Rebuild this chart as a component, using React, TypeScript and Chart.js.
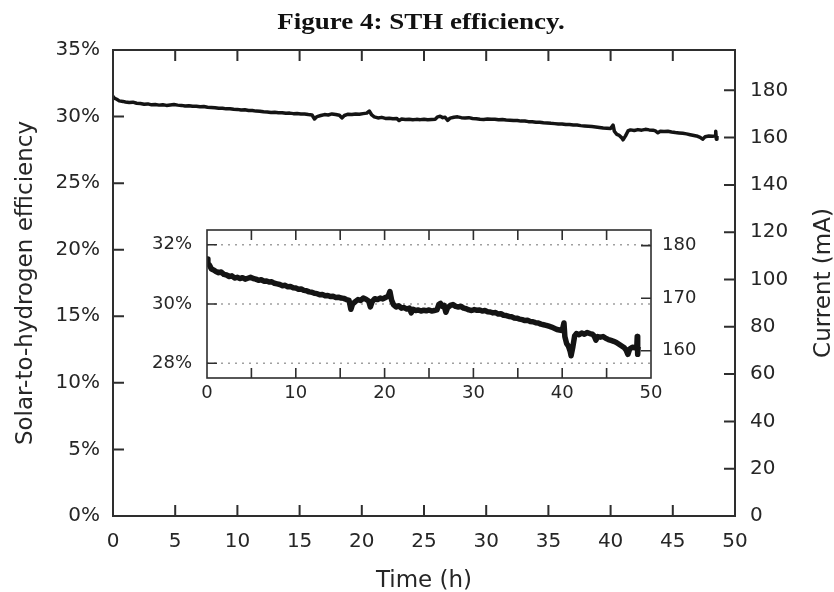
import React, { useEffect, useRef } from "react";
import { Chart, registerables } from "chart.js";

Chart.register(...registerables);

// ---------- data ----------
const TIME_H = [
  0.0, 0.1, 0.3, 0.5, 0.8, 1.0, 1.3, 1.6, 1.9, 2.2, 2.5, 2.8, 3.1, 3.4, 3.7, 4.0, 4.3, 4.6, 4.9, 5.2,
  5.5, 5.8, 6.1, 6.4, 6.7, 7.0, 7.3, 7.6, 7.9, 8.2, 8.5, 8.8, 9.1, 9.4, 9.7, 10.0, 10.3, 10.6, 10.9, 11.2,
  11.5, 11.8, 12.1, 12.4, 12.7, 13.0, 13.3, 13.6, 13.9, 14.2, 14.5, 14.8, 15.1, 15.4, 15.7, 16.0, 16.2, 16.4, 16.7, 17.0,
  17.3, 17.6, 17.9, 18.2, 18.4, 18.6, 18.9, 19.2, 19.5, 19.8, 20.1, 20.4, 20.6, 20.8, 21.0, 21.3, 21.6, 21.9, 22.2, 22.5,
  22.8, 23.0, 23.2, 23.5, 23.8, 24.1, 24.4, 24.7, 25.0, 25.3, 25.6, 25.9, 26.1, 26.3, 26.5, 26.7, 26.9, 27.1, 27.4, 27.7,
  28.0, 28.3, 28.6, 28.9, 29.2, 29.5, 29.8, 30.1, 30.4, 30.7, 31.0, 31.3, 31.6, 31.9, 32.2, 32.5, 32.8, 33.1, 33.4, 33.7,
  34.0, 34.3, 34.6, 34.9, 35.2, 35.5, 35.8, 36.1, 36.4, 36.7, 37.0, 37.3, 37.6, 37.9, 38.2, 38.5, 38.8, 39.1, 39.4, 39.7,
  40.0, 40.2, 40.3, 40.5, 40.7, 40.9, 41.0, 41.2, 41.4, 41.6, 41.9, 42.2, 42.5, 42.8, 43.1, 43.4, 43.6, 43.8, 44.0, 44.3,
  44.6, 44.9, 45.2, 45.5, 45.8, 46.1, 46.4, 46.7, 47.0, 47.2, 47.4, 47.6, 47.9, 48.2, 48.4, 48.45, 48.5, 48.55,
];

const STH_PCT = [
  31.52, 31.38, 31.3, 31.18, 31.14, 31.1, 31.06, 31.08, 31.0, 30.98, 30.93, 30.95, 30.88, 30.9, 30.86, 30.89, 30.84, 30.87, 30.9, 30.86,
  30.84, 30.8, 30.82, 30.77, 30.78, 30.74, 30.75, 30.7, 30.68, 30.66, 30.62, 30.63, 30.58, 30.59, 30.55, 30.54, 30.5, 30.51, 30.46, 30.45,
  30.41, 30.4, 30.36, 30.35, 30.31, 30.32, 30.28, 30.29, 30.25, 30.26, 30.22, 30.23, 30.2, 30.19, 30.15, 30.12, 29.82, 30.0, 30.08, 30.15,
  30.12, 30.2, 30.16, 30.1, 29.9, 30.08, 30.18, 30.15, 30.2, 30.17, 30.22, 30.26, 30.42, 30.12, 29.98, 29.9, 29.94, 29.86, 29.88, 29.83,
  29.86, 29.7, 29.82, 29.78, 29.8, 29.76, 29.79, 29.77, 29.8, 29.76, 29.78, 29.8, 29.98, 30.02, 29.92, 29.95, 29.72, 29.88, 29.95, 29.98,
  29.92, 29.9, 29.92, 29.86, 29.84, 29.8, 29.78, 29.81, 29.79, 29.8, 29.76, 29.78, 29.74, 29.73, 29.7, 29.71, 29.66, 29.67, 29.62, 29.61,
  29.58, 29.57, 29.53, 29.52, 29.49, 29.47, 29.44, 29.45, 29.41, 29.4, 29.37, 29.36, 29.32, 29.3, 29.28, 29.25, 29.22, 29.18, 29.14, 29.12,
  29.1, 29.36, 28.9, 28.66, 28.58, 28.4, 28.25, 28.55, 28.92, 29.0, 28.96, 29.02, 28.98, 29.04, 29.0, 28.98, 28.92, 28.78, 28.9, 28.88,
  28.9, 28.84, 28.8, 28.77, 28.74, 28.7, 28.64, 28.58, 28.52, 28.44, 28.3, 28.48, 28.54, 28.52, 28.55, 28.9, 28.3, 28.55,
];

// current (mA) per percent of STH efficiency
const MA_PER_PCT = 5.63;

const MAIN_X_TICKS = [0, 5, 10, 15, 20, 25, 30, 35, 40, 45, 50];
const MAIN_Y_TICKS = [0, 5, 10, 15, 20, 25, 30, 35];
const MAIN_CURRENT_TICKS = [0, 20, 40, 60, 80, 100, 120, 140, 160, 180];
const MAIN_Y_RANGE = [0, 35];

const INSET_X_TICKS = [0, 10, 20, 30, 40, 50];
const INSET_X_MARKS = [5, 10, 15, 20, 25, 30, 35, 40, 45];
const INSET_Y_TICKS = [28, 30, 32];
const INSET_CURRENT_TICKS = [160, 170, 180];
const INSET_Y_RANGE = [27.5, 32.5];

const X_RANGE = [0, 50];

const TITLE = "Figure 4: STH efficiency.";
const X_TITLE = "Time (h)";
const Y_TITLE = "Solar-to-hydrogen efficiency";
const Y1_TITLE = "Current (mA)";

// ---------- helpers ----------
const FONT = "'DejaVu Sans', sans-serif";
const TEXT = "#262626";
const AXIS = "#2e2e2e";

type DecorCfg = {
  id: string;
  frameWidth: number;
  tickLen: number;
  xMarks: number[];
  yMarks: number[];
  y1Marks: number[];
  gridValues?: number[];
  titles?: boolean;
};

function makeDecor(cfg: DecorCfg) {
  return {
    id: cfg.id,
    beforeDatasetsDraw(chart: any) {
      if (!cfg.gridValues) return;
      const { ctx, chartArea: a, scales } = chart;
      ctx.save();
      ctx.strokeStyle = "#a0a0a0";
      ctx.lineWidth = 1.5;
      ctx.setLineDash([2, 5]);
      for (const v of cfg.gridValues) {
        const y = scales.y.getPixelForValue(v);
        ctx.beginPath();
        ctx.moveTo(a.left, y);
        ctx.lineTo(a.right, y);
        ctx.stroke();
      }
      ctx.restore();
    },
    afterDatasetsDraw(chart: any) {
      const { ctx, chartArea: a, scales } = chart;
      ctx.save();
      ctx.strokeStyle = AXIS;
      ctx.lineWidth = cfg.frameWidth;
      ctx.setLineDash([]);
      ctx.strokeRect(a.left, a.top, a.right - a.left, a.bottom - a.top);
      const L = cfg.tickLen;
      ctx.beginPath();
      for (const v of cfg.xMarks) {
        const x = scales.x.getPixelForValue(v);
        ctx.moveTo(x, a.bottom);
        ctx.lineTo(x, a.bottom - L);
        ctx.moveTo(x, a.top);
        ctx.lineTo(x, a.top + L);
      }
      for (const v of cfg.yMarks) {
        const y = scales.y.getPixelForValue(v);
        ctx.moveTo(a.left, y);
        ctx.lineTo(a.left + L, y);
      }
      for (const v of cfg.y1Marks) {
        const y = scales.y1.getPixelForValue(v);
        ctx.moveTo(a.right, y);
        ctx.lineTo(a.right - L, y);
      }
      ctx.stroke();
      ctx.restore();
    },
    afterDraw(chart: any) {
      if (!cfg.titles) return;
      const { ctx, chartArea: a } = chart;
      ctx.save();
      ctx.fillStyle = TEXT;
      ctx.font = `23px ${FONT}`;
      ctx.textAlign = "center";
      ctx.textBaseline = "alphabetic";
      const midY = (a.top + a.bottom) / 2;
      ctx.fillText(X_TITLE, (a.left + a.right) / 2, 587);
      ctx.save();
      ctx.translate(32, midY);
      ctx.rotate(-Math.PI / 2);
      ctx.fillText(Y_TITLE, 0, 0);
      ctx.restore();
      ctx.save();
      ctx.translate(830, midY);
      ctx.rotate(-Math.PI / 2);
      ctx.fillText(Y1_TITLE, 0, 0);
      ctx.restore();
      ctx.restore();
    },
  };
}

function fixedTicks(values: number[]) {
  return (scale: any) => {
    scale.ticks = values.map((v) => ({ value: v }));
  };
}

function buildConfig(opts: {
  lineWidth: number;
  fontSize: number;
  xTicks: number[];
  yTicks: number[];
  y1Ticks: number[];
  yRange: number[];
  leftW: number;
  rightW: number;
  bottomH: number;
  topPad: number;
  padLeft: number;
  padRight: number;
  padX: number;
  decor: any;
}) {
  const points = TIME_H.map((t, i) => ({ x: t, y: STH_PCT[i] }));
  const tickFont = { family: FONT, size: opts.fontSize };
  const noPad = (s: any) => {
    s.paddingTop = 0;
    s.paddingBottom = 0;
    s.paddingLeft = 0;
    s.paddingRight = 0;
  };
  return {
    type: "line" as const,
    data: {
      datasets: [
        {
          data: points,
          borderColor: "#141414",
          borderWidth: opts.lineWidth,
          pointRadius: 0,
          tension: 0,
          fill: false,
          borderJoinStyle: "round" as const,
        },
      ],
    },
    options: {
      responsive: false,
      animation: false as const,
      devicePixelRatio: 1,
      layout: { padding: { top: opts.topPad, left: 0, right: 0, bottom: 0 } },
      plugins: { legend: { display: false }, tooltip: { enabled: false }, title: { display: false } },
      scales: {
        x: {
          type: "linear" as const,
          position: "bottom" as const,
          min: X_RANGE[0],
          max: X_RANGE[1],
          afterBuildTicks: fixedTicks(opts.xTicks),
          afterFit: (s: any) => {
            s.height = opts.bottomH;
            noPad(s);
          },
          grid: { display: false, drawTicks: false },
          border: { display: false },
          ticks: { font: tickFont, color: TEXT, padding: opts.padX, maxRotation: 0, autoSkip: false },
        },
        y: {
          type: "linear" as const,
          position: "left" as const,
          min: opts.yRange[0],
          max: opts.yRange[1],
          afterBuildTicks: fixedTicks(opts.yTicks),
          afterFit: (s: any) => {
            s.width = opts.leftW;
            noPad(s);
          },
          grid: { display: false, drawTicks: false },
          border: { display: false },
          ticks: {
            font: tickFont,
            color: TEXT,
            padding: opts.padLeft,
            callback: (v: any) => `${v}%`,
          },
        },
        y1: {
          type: "linear" as const,
          position: "right" as const,
          min: opts.yRange[0] * MA_PER_PCT,
          max: opts.yRange[1] * MA_PER_PCT,
          afterBuildTicks: fixedTicks(opts.y1Ticks),
          afterFit: (s: any) => {
            s.width = opts.rightW;
            noPad(s);
          },
          grid: { display: false, drawTicks: false },
          border: { display: false },
          ticks: { font: tickFont, color: TEXT, padding: opts.padRight },
        },
      },
    },
    plugins: [opts.decor],
  };
}

export default function App() {
  const mainRef = useRef<HTMLCanvasElement | null>(null);
  const insetRef = useRef<HTMLCanvasElement | null>(null);

  useEffect(() => {
    const main = new Chart(
      mainRef.current as HTMLCanvasElement,
      buildConfig({
        lineWidth: 3.5,
        fontSize: 20,
        xTicks: MAIN_X_TICKS,
        yTicks: MAIN_Y_TICKS,
        y1Ticks: MAIN_CURRENT_TICKS,
        yRange: MAIN_Y_RANGE,
        leftW: 113,
        rightW: 99,
        bottomH: 76,
        topPad: 50,
        padLeft: 13,
        padRight: 15,
        padX: 14,
        decor: makeDecor({
          id: "decorMain",
          frameWidth: 2,
          tickLen: 11,
          xMarks: MAIN_X_TICKS,
          yMarks: MAIN_Y_TICKS,
          y1Marks: MAIN_CURRENT_TICKS,
          titles: true,
        }),
      }) as any
    );
    const inset = new Chart(
      insetRef.current as HTMLCanvasElement,
      buildConfig({
        lineWidth: 5.5,
        fontSize: 18,
        xTicks: INSET_X_TICKS,
        yTicks: INSET_Y_TICKS,
        y1Ticks: INSET_CURRENT_TICKS,
        yRange: INSET_Y_RANGE,
        leftW: 77,
        rightW: 69,
        bottomH: 42,
        topPad: 10,
        padLeft: 15,
        padRight: 11,
        padX: 5,
        decor: makeDecor({
          id: "decorInset",
          frameWidth: 1.6,
          tickLen: 10,
          xMarks: INSET_X_MARKS,
          yMarks: INSET_Y_TICKS,
          y1Marks: INSET_CURRENT_TICKS,
          gridValues: INSET_Y_TICKS,
        }),
      }) as any
    );
    return () => {
      main.destroy();
      inset.destroy();
    };
  }, []);

  return (
    <div style={{ position: "absolute", left: 0, top: 0, width: 834, height: 592, background: "#fff", overflow: "hidden" }}>
      <canvas ref={mainRef} width={834} height={592} style={{ position: "absolute", left: 0, top: 0 }} />
      <canvas ref={insetRef} width={590} height={200} style={{ position: "absolute", left: 130, top: 220 }} />
      <div
        style={{
          position: "absolute",
          left: 421,
          top: 11,
          fontFamily: "'Liberation Serif', 'Times New Roman', serif",
          fontWeight: "bold",
          fontSize: 22.5,
          lineHeight: "22.5px",
          whiteSpace: "nowrap",
          color: "#111",
          transform: "translateX(-50%) scaleX(1.2)",
        }}
      >
        {TITLE}
      </div>
    </div>
  );
}
